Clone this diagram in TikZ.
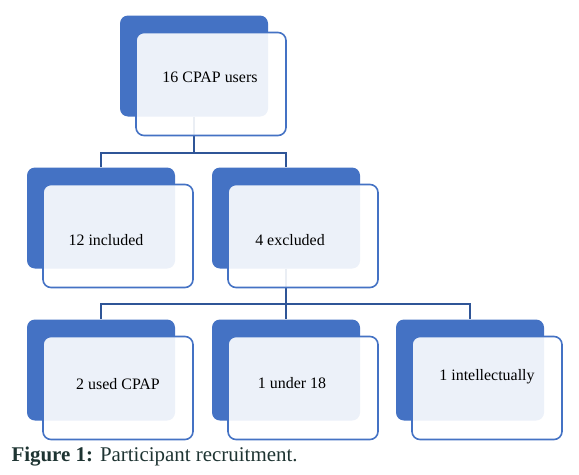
\documentclass[tikz,border=0pt]{standalone}
\usepackage[]{color}
\usepackage{fontspec}
\setmainfont{Liberation Serif}
\usepackage{tikz}
\definecolor{boxblue}{RGB}{68,114,196}
\definecolor{linkblue}{RGB}{47,85,151}
\definecolor{capgreen}{RGB}{30,52,50}
\begin{document}
\begin{tikzpicture}[font=\fontsize{16}{19}\selectfont]
\useasboundingbox (0bp,0bp) rectangle (579bp,-475bp);

\node (Ub) at (194bp,-66bp)[fill=boxblue,rounded corners=8bp,minimum width=148bp,minimum height=101bp] {};
\node (Ib) at (101bp,-218bp)[fill=boxblue,rounded corners=8bp,minimum width=148bp,minimum height=101bp] {};
\node (Eb) at (286bp,-218bp)[fill=boxblue,rounded corners=8bp,minimum width=148bp,minimum height=101bp] {};
\node (Cb) at (101bp,-370bp)[fill=boxblue,rounded corners=8bp,minimum width=148bp,minimum height=101bp] {};
\node (Ab) at (286bp,-370bp)[fill=boxblue,rounded corners=8bp,minimum width=148bp,minimum height=101bp] {};
\node (Xb) at (470bp,-370bp)[fill=boxblue,rounded corners=8bp,minimum width=148bp,minimum height=101bp] {};
\coordinate (J1) at (194bp,-153bp);
\coordinate (J2) at (286bp,-304bp);
\draw [linkblue,line width=2.2bp] (Ub.south) -- (J1) -| (Ib.north);
\draw [linkblue,line width=2.2bp] (J1) -| (Eb.north);
\draw [linkblue,line width=2.2bp] (Eb.south) -- (J2) -| (Cb.north);
\draw [linkblue,line width=2.2bp] (J2) -- (Ab.north);
\draw [linkblue,line width=2.2bp] (J2) -| (Xb.north);
\node (U) at (211bp,-84bp)[draw=boxblue,line width=1.6bp,fill=white,fill opacity=0.9,rounded corners=8bp,minimum width=150bp,minimum height=103bp] {};
\node (I) at (118bp,-236bp)[draw=boxblue,line width=1.6bp,fill=white,fill opacity=0.9,rounded corners=8bp,minimum width=150bp,minimum height=103bp] {};
\node (E) at (303bp,-236bp)[draw=boxblue,line width=1.6bp,fill=white,fill opacity=0.9,rounded corners=8bp,minimum width=150bp,minimum height=103bp] {};
\node (C) at (118bp,-388bp)[draw=boxblue,line width=1.6bp,fill=white,fill opacity=0.9,rounded corners=8bp,minimum width=150bp,minimum height=103bp] {};
\node (A) at (303bp,-388bp)[draw=boxblue,line width=1.6bp,fill=white,fill opacity=0.9,rounded corners=8bp,minimum width=150bp,minimum height=103bp] {};
\node (X) at (487bp,-388bp)[draw=boxblue,line width=1.6bp,fill=white,fill opacity=0.9,rounded corners=8bp,minimum width=150bp,minimum height=103bp] {};
\node (Ut) at (210bp,-77bp) {16 CPAP users};
\node (It) at (106bp,-240bp) {12 included};
\node (Et) at (290bp,-240bp) {4 excluded};
\node (Ct) at (118bp,-384bp) {2 used CPAP};
\node (At) at (292bp,-383bp) {1 under 18};
\node (Xt) at (487bp,-377bp) {1 intellectually};
\node (Cap) at (8bp,-461bp)[anchor=base west,text=capgreen,font=\fontsize{21}{25}\selectfont] {\textbf{Figure 1:} Participant recruitment.};
\end{tikzpicture}
\end{document}
